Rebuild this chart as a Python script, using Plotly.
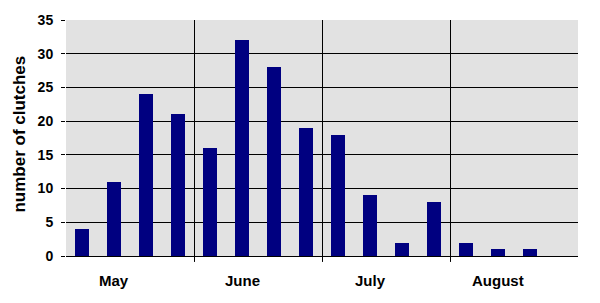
import plotly.graph_objects as go

months = ["May", "June", "July", "August"]
slot_values = [4, 11, 24, 21, 16, 32, 28, 19, 18, 9, 2, 8, 2, 1, 1, None]
y_ticks = [0, 5, 10, 15, 20, 25, 30, 35]

slots = list(range(len(slot_values)))
xs = [s for s, v in zip(slots, slot_values) if v is not None]
ys = [v for v in slot_values if v is not None]

fig = go.Figure()
fig.add_trace(go.Bar(x=xs, y=ys, width=0.43, marker=dict(color="#000080", line=dict(width=0))))

font_family = "Liberation Sans, Arial, sans-serif"
px_per_unit = 512 / 16

shapes = []
for m in range(1, len(months)):
    xb = m * 4 - 0.5 + 0.5 / px_per_unit
    shapes.append(dict(type="line", xref="x", yref="paper", x0=xb, x1=xb,
                       y0=-6 / 239, y1=1, line=dict(color="black", width=1)))

annotations = []
for i, m in enumerate(months):
    annotations.append(dict(x=i * 4 + 1, y=0, xref="x", yref="paper", text=m,
                            showarrow=False, yanchor="middle", yshift=-24,
                            font=dict(family=font_family, size=15, color="black", weight="bold")))

annotations.append(dict(x=(20 - 66) / 512, y=(256 - 133) / 239, xref="paper", yref="paper",
                        xanchor="center", yanchor="middle",
                        text="number of clutches", textangle=-90, showarrow=False,
                        font=dict(family=font_family, size=17, color="black", weight="bold")))

fig.update_layout(
    width=600, height=303,
    margin=dict(l=66, r=22, t=17, b=47),
    paper_bgcolor="white", plot_bgcolor="#E2E2E2",
    showlegend=False,
    bargap=0,
    shapes=shapes,
    annotations=annotations,
    xaxis=dict(range=[-0.5, 15.5], showticklabels=False, ticks="", showgrid=False,
               zeroline=False, showline=False, fixedrange=True),
    yaxis=dict(range=[0, 35], tickvals=y_ticks, ticks="outside", ticklen=4, tickcolor="black",
               tickwidth=1, showgrid=True, gridcolor="black", gridwidth=1,
               zeroline=True, zerolinecolor="black", zerolinewidth=1, showline=False,
               ticklabelstandoff=5,
               tickfont=dict(family=font_family, size=14, color="black", weight="bold")),
)

fig.write_html("out.html")
